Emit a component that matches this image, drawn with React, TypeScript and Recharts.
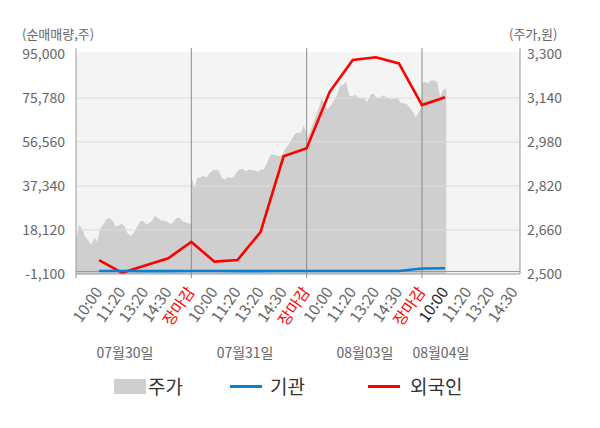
import React from 'react';
import {
  ComposedChart,
  Area,
  Line,
  XAxis,
  YAxis,
  ReferenceLine,
  ReferenceArea,
} from 'recharts';

// ---------- data ----------
const slotLabels = [
  '10:00', '11:20', '13:20', '14:30', '장마감',
  '10:00', '11:20', '13:20', '14:30', '장마감',
  '10:00', '11:20', '13:20', '14:30', '장마감',
  '10:00', '11:20', '13:20', '14:30',
];
const dayLabels = ['07월30일', '07월31일', '08월03일', '08월04일'];

// 외국인 / 기관 net volume at each slot (10:00, 11:20, 13:20, 14:30, 장마감 ...)
const foreignValues = [5000, -600, 2600, 5800, 12900, 4300, 5000, 17200, 50300, 53800, 78500, 92400, 93600, 90900, 72700, 76100];
const institutionValues = [200, 200, 150, 150, 200, 200, 150, 150, 200, 200, 200, 200, 200, 200, 1300, 1400];

// 주가 (intraday samples per day)
const priceDay1 = [2626, 2680, 2665, 2636, 2624, 2605, 2632, 2618, 2665, 2680, 2700, 2704, 2695, 2672, 2676, 2682, 2675, 2648, 2638, 2648, 2668, 2690, 2695, 2682, 2684, 2694, 2712, 2704, 2695, 2695, 2690, 2682, 2686, 2703, 2705, 2692, 2688, 2684, 2684];
const priceDay2 = [2854, 2814, 2850, 2852, 2857, 2850, 2866, 2876, 2878, 2876, 2850, 2844, 2852, 2849, 2854, 2872, 2882, 2882, 2874, 2880, 2878, 2876, 2872, 2881, 2882, 2905, 2932, 2935, 2931, 2928, 2935, 2955, 2970, 2988, 3008, 3015, 3012, 3040, 3010];
const priceDay3 = [2990, 3015, 3045, 3075, 3105, 3140, 3115, 3100, 3112, 3132, 3152, 3185, 3188, 3199, 3150, 3145, 3152, 3142, 3139, 3139, 3125, 3152, 3156, 3142, 3138, 3150, 3145, 3139, 3135, 3139, 3139, 3123, 3121, 3118, 3105, 3090, 3068, 3090, 3110];
const priceDay4 = [3196, 3198, 3194, 3205, 3204, 3199, 3145, 3170, 3175];

const leftTicks = [-1100, 18120, 37340, 56560, 75780, 95000];
const rightTicks = [2500, 2660, 2820, 2980, 3140, 3300];

// ---------- derived tables ----------
const SLOTS_PER_DAY = 5;
const SAMPLE_STEP = SLOTS_PER_DAY / 38;
const priceDays = [priceDay1, priceDay2, priceDay3, priceDay4];
const priceData = priceDays.flatMap((day, d) =>
  day.map((price, i) => ({ x: d * SLOTS_PER_DAY + i * SAMPLE_STEP, price }))
);
const flowData = foreignValues.map((f, i) => ({
  x: i + 1,
  foreign: f,
  institution: institutionValues[i],
}));
const slotTicks = [0, ...slotLabels.map((_, i) => i + 1)];
const dateTickPos = [2.12, 7.33, 12.53, 15.82];

const FONT = '"Noto Sans CJK KR", "Noto Sans", sans-serif';
const X_DOMAIN: [number, number] = [0, 19.25];

const fmt = (v: number) => v.toLocaleString('en-US');

const SlotTick = (props: any) => {
  const { x, y, payload } = props;
  const v = payload.value as number;
  const boundary = v % 5 === 0;
  const label = v >= 1 ? slotLabels[v - 1] : null;
  const color = label === '장마감' ? '#ff0000' : v === 16 ? '#222222' : '#666666';
  const ty = y + 15;
  return (
    <g>
      {boundary && <line x1={x} x2={x} y1={y} y2={y + 4} stroke="#8c8c8c" />}
      {label && (
        <text
          x={x}
          y={ty}
          dy={5}
          textAnchor="end"
          transform={`rotate(-55, ${x}, ${ty})`}
          fill={color}
          fontSize={15.5}
          fontFamily={FONT}
        >
          {label}
        </text>
      )}
    </g>
  );
};

const DateTick = (props: any) => {
  const { x, y, index } = props;
  return (
    <text x={x} y={y + 24} textAnchor="middle" fill="#666666" fontSize={14} fontFamily={FONT}>
      {dayLabels[index]}
    </text>
  );
};

export default function App() {
  return (
    <div style={{ position: 'absolute', left: 0, top: 0, width: 600, height: 428, background: '#fff', fontFamily: FONT }}>
      <div style={{ position: 'absolute', left: 22, top: 27, fontSize: 13, lineHeight: '13px', color: '#666' }}>(순매매량,주)</div>
      <div style={{ position: 'absolute', left: 509, top: 27, fontSize: 13, lineHeight: '13px', color: '#666' }}>(주가,원)</div>
      <ComposedChart
        width={600}
        height={428}
        margin={{ top: 48, right: 0, bottom: 54, left: 0 }}
      >
        <XAxis
          type="number"
          dataKey="x"
          domain={X_DOMAIN}
          ticks={slotTicks}
          interval={0}
          tick={<SlotTick />}
          tickLine={false}
          tickSize={0}
          tickMargin={0}
          axisLine={{ stroke: '#999999' }}
          height={60}
          allowDataOverflow
        />
        <XAxis
          xAxisId="date"
          type="number"
          dataKey="x"
          domain={X_DOMAIN}
          ticks={dateTickPos}
          interval={0}
          tick={<DateTick />}
          tickLine={false}
          tickSize={0}
          tickMargin={0}
          axisLine={false}
          height={40}
          allowDataOverflow
        />
        <YAxis
          yAxisId="left"
          type="number"
          domain={[-1100, 97620]}
          ticks={leftTicks}
          interval={0}
          tickFormatter={fmt}
          width={76}
          tickLine={false}
          tickSize={0}
          tickMargin={11}
          axisLine={{ stroke: '#999999' }}
          tick={{ fill: '#666666', fontSize: 14, fontFamily: FONT }}
          allowDataOverflow
        />
        <YAxis
          yAxisId="right"
          orientation="right"
          type="number"
          domain={[2500, 3322]}
          ticks={rightTicks}
          interval={0}
          tickFormatter={fmt}
          width={80}
          tickLine={false}
          tickSize={0}
          tickMargin={7}
          axisLine={{ stroke: '#999999' }}
          tick={{ fill: '#666666', fontSize: 14, fontFamily: FONT, textAnchor: 'start' }}
          allowDataOverflow
        />
        <ReferenceArea yAxisId="left" y1={-1100} y2={95800} fill="#f4f4f4" fillOpacity={1} stroke="none" ifOverflow="hidden" />
        <Area
          yAxisId="right"
          data={priceData}
          dataKey="price"
          type="linear"
          fill="#cfcfcf"
          fillOpacity={1}
          stroke="none"
          isAnimationActive={false}
          dot={false}
          activeDot={false}
        />
        {leftTicks.slice(1, 5).map((t) => (
          <ReferenceLine key={t} yAxisId="left" y={t} stroke="#dddddd" strokeWidth={1} />
        ))}
        <ReferenceLine yAxisId="left" y={0} stroke="#999999" strokeWidth={1} />
        {[5, 10, 15].map((d) => (
          <ReferenceLine key={d} yAxisId="left" x={d} stroke="#8c8c8c" strokeWidth={1} />
        ))}
        <Line
          yAxisId="left"
          data={flowData}
          dataKey="foreign"
          type="linear"
          stroke="#ff0000"
          strokeWidth={2.6}
          dot={false}
          activeDot={false}
          isAnimationActive={false}
        />
        <Line
          yAxisId="left"
          data={flowData}
          dataKey="institution"
          type="linear"
          stroke="#0a7ecf"
          strokeWidth={2.6}
          dot={false}
          activeDot={false}
          isAnimationActive={false}
        />
      </ComposedChart>
      <div style={{ position: 'absolute', left: 0, top: 374, width: 600, height: 26, fontSize: 19, color: '#333' }}>
        <div style={{ position: 'absolute', left: 114, top: 5, width: 32, height: 15, background: '#cfcfcf' }} />
        <div style={{ position: 'absolute', left: 148, top: 0, lineHeight: '24px' }}>주가</div>
        <div style={{ position: 'absolute', left: 230, top: 11, width: 32, height: 3, background: '#0a7ecf' }} />
        <div style={{ position: 'absolute', left: 270, top: 0, lineHeight: '24px' }}>기관</div>
        <div style={{ position: 'absolute', left: 368, top: 11, width: 32, height: 3, background: '#ff0000' }} />
        <div style={{ position: 'absolute', left: 410, top: 0, lineHeight: '24px' }}>외국인</div>
      </div>
    </div>
  );
}
